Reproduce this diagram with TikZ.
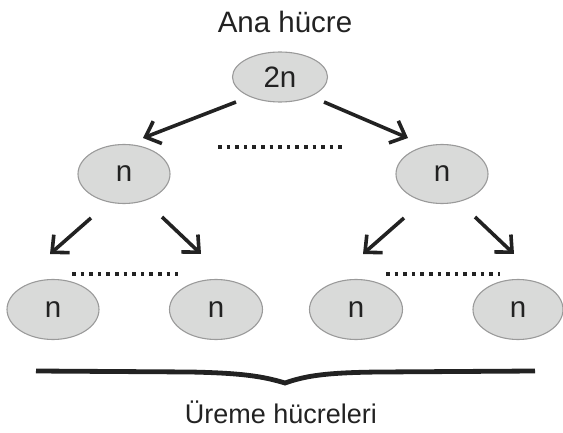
\documentclass[tikz,border=0pt]{standalone}
\usepackage{fontspec}
\setmainfont{Liberation Sans}
\usetikzlibrary{shapes.geometric,arrows.meta}
\definecolor{cellfill}{HTML}{D9DAD9}
\definecolor{cellline}{HTML}{9A9A9A}
\definecolor{ink}{HTML}{222222}
\begin{document}
\begin{tikzpicture}[x=1pt,y=-1pt,
  cell/.style={ellipse,draw=cellline,fill=cellfill,line width=1.1pt,inner sep=0pt,
    font=\fontsize{29.5}{32}\selectfont,text=ink},
  lbl/.style={anchor=base,inner sep=0pt,font=\fontsize{29.5}{32}\selectfont,text=ink},
  arr/.style={draw=ink,line width=3.6pt,-{Straight Barb[length=13pt,width=24pt,line width=3.6pt]}},
  dots/.style={draw=ink,line width=3.4pt,dash pattern=on 3.6pt off 5pt},
  brace/.style={draw=ink,line width=4.8pt}]
\useasboundingbox (0,0) rectangle (563,433);

% parent cell
\node[lbl] (title) at (285,33) {Ana hücre};
\node[cell,minimum width=95pt,minimum height=50pt] (top) at (280,77) {2n};

% first division
\node[cell,minimum width=92pt,minimum height=59pt] (ml) at (124,174) {n};
\node[cell,minimum width=92pt,minimum height=59pt] (mr) at (442,174) {n};

% gametes
\node[cell,minimum width=92pt,minimum height=60pt] (b1) at (53,309.5) {n};
\node[cell,minimum width=93pt,minimum height=60pt] (b2) at (216,309.5) {n};
\node[cell,minimum width=93pt,minimum height=60pt] (b3) at (356,309.5) {n};
\node[cell,minimum width=90pt,minimum height=60pt] (b4) at (518,309.5) {n};

% arrow end points
\coordinate (t1s) at (236,102); \coordinate (t1e) at (143,138);
\coordinate (t2s) at (324,102); \coordinate (t2e) at (408,138);
\coordinate (l1s) at (91,218);  \coordinate (l1e) at (50,254);
\coordinate (l2s) at (162,217); \coordinate (l2e) at (201,254);
\coordinate (r1s) at (404,218); \coordinate (r1e) at (363,254);
\coordinate (r2s) at (475,217); \coordinate (r2e) at (514,254);

\draw[arr] (t1s) -- (t1e);
\draw[arr] (t2s) -- (t2e);
\draw[arr] (l1s) -- (l1e);
\draw[arr] (l2s) -- (l2e);
\draw[arr] (r1s) -- (r1e);
\draw[arr] (r2s) -- (r2e);

% dotted gaps
\coordinate (d1a) at (218,147); \coordinate (d1b) at (342,147);
\coordinate (d2a) at (72,274);  \coordinate (d2b) at (178,274);
\coordinate (d3a) at (386,274); \coordinate (d3b) at (500,274);
\draw[dots] (d1a) -- (d1b);
\draw[dots] (d2a) -- (d2b);
\draw[dots] (d3a) -- (d3b);

% brace over the gametes
\coordinate (bl) at (36,371);
\coordinate (btip) at (285,383);
\coordinate (br) at (535,371);
\draw[brace] (bl) -- (190,372) .. controls (240,373) and (262,376) .. (btip)
  .. controls (305,376) and (325,372.5) .. (380,372) -- (br);

\node[lbl,font=\fontsize{27}{30}\selectfont] (caption) at (281,423) {Üreme hücreleri};
\end{tikzpicture}
\end{document}
